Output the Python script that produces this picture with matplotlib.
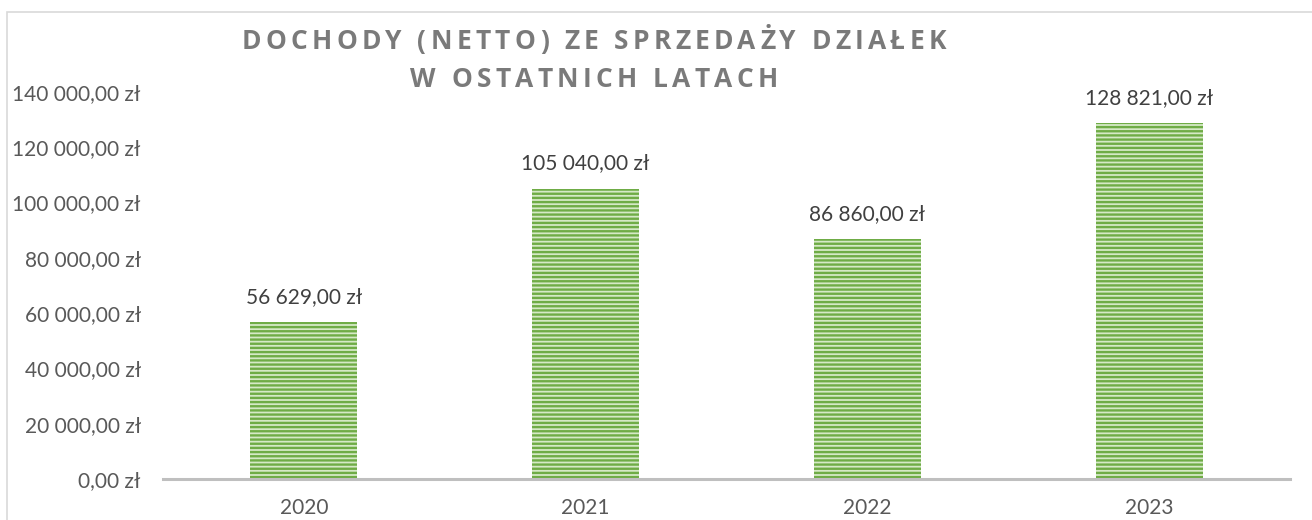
import matplotlib
matplotlib.use("Agg")
import matplotlib.pyplot as plt
from matplotlib.patches import Rectangle
from matplotlib.font_manager import FontProperties
from matplotlib.ticker import FuncFormatter

years = ["2020", "2021", "2022", "2023"]
values = [56629.00, 105040.00, 86860.00, 128821.00]
yticks = [0, 20000, 40000, 60000, 80000, 100000, 120000, 140000]
title_lines = ["DOCHODY (NETTO) ZE SPRZEDAŻY DZIAŁEK", "W OSTATNICH LATACH"]


def pln(v):
    whole = int(round(v * 100)) // 100
    cents = int(round(v * 100)) % 100
    s = f"{whole:,}".replace(",", " ")
    return f"{s},{cents:02d} zł"


W, H = 1312, 520
plt.rcParams['hatch.linewidth'] = 1.7
fig = plt.figure(figsize=(W / 100, H / 100), dpi=100)
fig.patch.set_facecolor("white")

# chart border
fig.add_artist(Rectangle((7 / W, -0.1), 2.0, (H - 12) / H + 0.1,
                         transform=fig.transFigure, fill=False,
                         edgecolor="#d9d9d9", linewidth=1.2))

ax = fig.add_axes([163 / W, 41 / H, (1290 - 163) / W, (428 - 41) / H])
x = list(range(len(years)))
ax.bar(x, values, width=0.38, facecolor="#d5e9c6", edgecolor="#6fac46",
       linewidth=0, hatch="----")
ax.set_xlim(-0.5, len(years) - 0.5)
ax.set_ylim(0, 140000)
ax.set_yticks(yticks)
ax.yaxis.set_major_formatter(FuncFormatter(lambda v, p: pln(v)))
ax.set_xticks(x)
ax.set_xticklabels(years)

FS = 15
lab_font = dict(family=["Lato", "DejaVu Sans"], size=FS)
for t in ax.get_yticklabels() + ax.get_xticklabels():
    t.set_fontfamily(["Lato", "DejaVu Sans"])
    t.set_fontsize(FS)
    t.set_color("#595959")
ax.tick_params(axis="y", length=0, pad=16)
ax.tick_params(axis="x", length=0, pad=14)
for s in ["left", "right", "top"]:
    ax.spines[s].set_visible(False)
ax.spines["bottom"].set_color("#bfbfbf")
ax.spines["bottom"].set_linewidth(2.2)

for xi, v in zip(x, values):
    ax.annotate(pln(v), (xi, v), xytext=(0, 11), textcoords="offset points",
                ha="center", va="bottom", color="#404040", **lab_font)

# title with letter spacing
renderer = fig.canvas.get_renderer()
fp = FontProperties(family=["Open Sans", "DejaVu Sans"], weight="bold", size=19)
tracking = 4.3  # px between letters
centre_x = 594
baselines = [49, 87]
for line, base in zip(title_lines, baselines):
    widths = []
    for ch in line:
        if ch == " ":
            w, _, _ = renderer.get_text_width_height_descent("a a", fp, ismath=False)
            w2, _, _ = renderer.get_text_width_height_descent("aa", fp, ismath=False)
            widths.append(w - w2)
        else:
            w, _, _ = renderer.get_text_width_height_descent(ch, fp, ismath=False)
            widths.append(w)
    total = sum(widths) + tracking * (len(line) - 1)
    cx = centre_x - total / 2
    for ch, w in zip(line, widths):
        if ch != " ":
            fig.text(cx / W, (H - base) / H, ch, fontproperties=fp,
                     color="#7a7a7a", ha="left", va="baseline")
        cx += w + tracking

fig.savefig("out.png", dpi=100, facecolor="white")
